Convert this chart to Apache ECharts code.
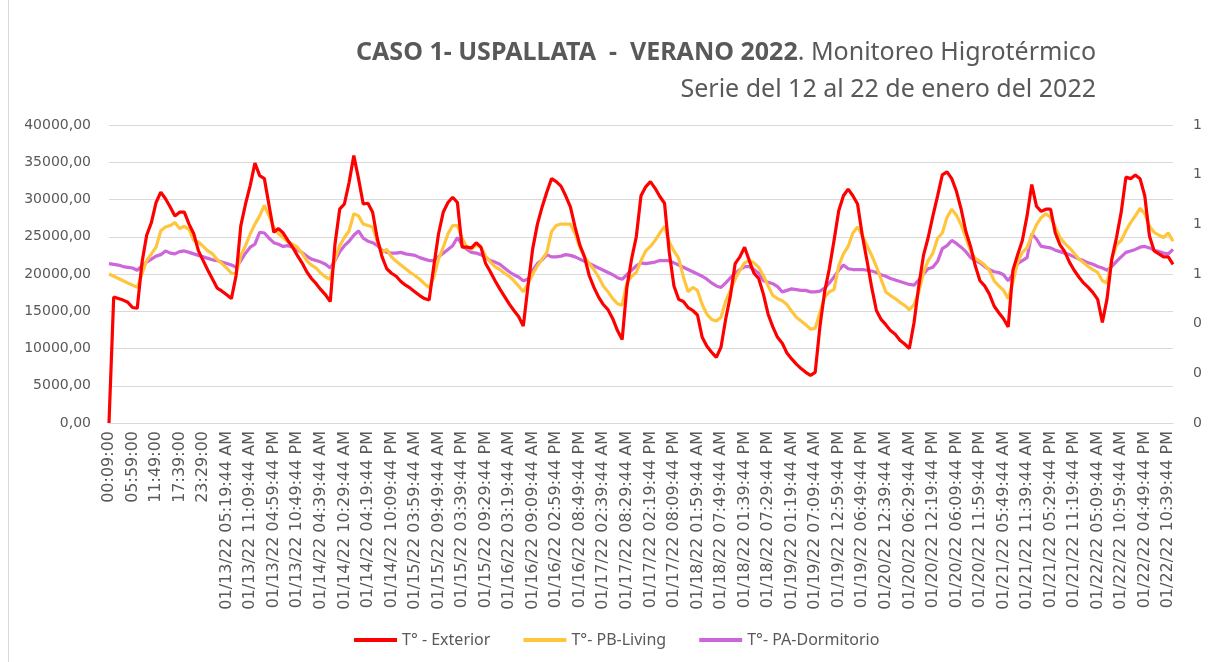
<!DOCTYPE html>
<html>
<head>
<meta charset="utf-8">
<title>Caso 1 - Uspallata - Verano 2022</title>
<script src="https://cdn.jsdelivr.net/npm/echarts@6/dist/echarts.min.js"></script>
<style>
  html, body { margin: 0; padding: 0; background: #fff; }
  #chart { width: 1213px; height: 662px; }
</style>
</head>
<body>
<div id="chart"></div>
<script>
// etiquetas del eje X (una cada 5 lecturas)
const tickLabels = [
  '00:09:00', '05:59:00', '11:49:00', '17:39:00', '23:29:00',
  '01/13/22 05:19:44 AM', '01/13/22 11:09:44 AM', '01/13/22 04:59:44 PM', '01/13/22 10:49:44 PM',
  '01/14/22 04:39:44 AM', '01/14/22 10:29:44 AM', '01/14/22 04:19:44 PM', '01/14/22 10:09:44 PM',
  '01/15/22 03:59:44 AM', '01/15/22 09:49:44 AM', '01/15/22 03:39:44 PM', '01/15/22 09:29:44 PM',
  '01/16/22 03:19:44 AM', '01/16/22 09:09:44 AM', '01/16/22 02:59:44 PM', '01/16/22 08:49:44 PM',
  '01/17/22 02:39:44 AM', '01/17/22 08:29:44 AM', '01/17/22 02:19:44 PM', '01/17/22 08:09:44 PM',
  '01/18/22 01:59:44 AM', '01/18/22 07:49:44 AM', '01/18/22 01:39:44 PM', '01/18/22 07:29:44 PM',
  '01/19/22 01:19:44 AM', '01/19/22 07:09:44 AM', '01/19/22 12:59:44 PM', '01/19/22 06:49:44 PM',
  '01/20/22 12:39:44 AM', '01/20/22 06:29:44 AM', '01/20/22 12:19:44 PM', '01/20/22 06:09:44 PM', '01/20/22 11:59:44 PM',
  '01/21/22 05:49:44 AM', '01/21/22 11:39:44 AM', '01/21/22 05:29:44 PM', '01/21/22 11:19:44 PM',
  '01/22/22 05:09:44 AM', '01/22/22 10:59:44 AM', '01/22/22 04:49:44 PM', '01/22/22 10:39:44 PM'
];
const pointsPerTick = 5;

// T° - Exterior
const exterior = [
  0, 16900, 16700, 16500, 16200, 15500, 15400, 21500, 25200, 26900,
  29600, 31000, 30100, 29000, 27800, 28300, 28300, 26700, 25400, 23100,
  21800, 20500, 19300, 18100, 17700, 17200, 16700, 19800, 26500, 29400,
  31900, 34900, 33200, 32800, 29200, 25600, 26100, 25500, 24500, 23600,
  22500, 21500, 20300, 19400, 18700, 17900, 17200, 16300, 24000, 28700,
  29400, 32300, 35900, 32800, 29400, 29500, 28300, 24700, 22300, 20700,
  20100, 19700, 19000, 18500, 18100, 17600, 17100, 16700, 16500, 21100,
  25400, 28300, 29600, 30300, 29600, 23600, 23600, 23500, 24200, 23600,
  21400, 20300, 19100, 18000, 17000, 16000, 15100, 14300, 13000, 18400,
  23400, 26700, 29000, 31000, 32800, 32400, 31800, 30500, 29000, 26300,
  23900, 22300, 19800, 18200, 16900, 15900, 15200, 14000, 12400, 11200,
  18200, 22000, 25000, 30500, 31700, 32400, 31500, 30400, 29500, 22900,
  18400, 16600, 16300, 15500, 15100, 14500, 11500, 10300, 9500, 8800,
  10200, 14000, 17100, 21400, 22300, 23600, 21800, 20100, 19400, 17300,
  14600, 12900, 11500, 10700, 9400, 8600, 7900, 7300, 6800, 6400,
  6800, 12900, 17600, 20700, 24500, 28500, 30500, 31400, 30500, 29400,
  25200, 21800, 18200, 15100, 13900, 13200, 12400, 11900, 11100, 10600,
  10000, 13500, 18400, 22500, 24900, 27800, 30500, 33300, 33700, 32800,
  31100, 28700, 25700, 23700, 21100, 19100, 18400, 17300, 15700, 14800,
  14000, 12900, 20500, 22600, 24500, 27800, 32000, 29100, 28400, 28700,
  28700, 25500, 23900, 23000, 21600, 20500, 19600, 18800, 18200, 17500,
  16600, 13500, 16700, 22000, 24900, 28300, 33000, 32800, 33300, 32800,
  30500, 25100, 23100, 22700, 22300, 22300, 21300
];

// T°- PB-Living
const living = [
  20000, 19700, 19400, 19100, 18800, 18500, 18200, 20000, 21800, 22700,
  23600, 25800, 26300, 26500, 26900, 26100, 26400, 26000, 24500, 24300,
  23700, 23100, 22700, 21900, 21400, 20800, 20100, 20000, 22500, 23800,
  25400, 26700, 27800, 29200, 27800, 26300, 25400, 24900, 24300, 24000,
  23600, 22800, 21800, 21200, 20800, 20100, 19600, 19300, 22000, 23800,
  24900, 25800, 28100, 27800, 26700, 26500, 26300, 24300, 22900, 23300,
  22300, 21700, 21200, 20700, 20200, 19800, 19300, 18700, 18200, 19600,
  22000, 23600, 25400, 26500, 26500, 24800, 23600, 23300, 23900, 23600,
  22400, 21600, 21000, 20600, 20100, 19700, 19100, 18400, 17600, 18700,
  20000, 21100, 22000, 22900, 25700, 26500, 26700, 26700, 26700, 25400,
  23600, 22300, 21400, 20600, 19600, 18400, 17600, 16700, 16000, 15800,
  18800, 19700, 20200, 21800, 23100, 23700, 24500, 25500, 26400, 24300,
  23100, 22100, 19600, 17600, 18200, 17800, 15900, 14600, 13900, 13700,
  14200, 16400, 17800, 19300, 20500, 21500, 21800, 21500, 20900, 19800,
  18400, 17100, 16700, 16400, 15900, 15000, 14200, 13700, 13200, 12600,
  12700, 14800, 16900, 17600, 17900, 21100, 22700, 23700, 25500, 26300,
  25200, 23800, 22500, 21000, 19300, 17600, 17100, 16700, 16200, 15800,
  15200, 15900, 17600, 20200, 21800, 22800, 24800, 25500, 27600, 28700,
  27900, 26600, 24900, 23100, 22100, 21700, 21200, 20500, 19100, 18400,
  17800, 16700, 18900, 21600, 22900, 23500, 25200, 26600, 27600, 28100,
  27600, 26300, 24900, 24100, 23500, 22800, 22000, 21500, 21000, 20600,
  20200, 19100, 18800, 22000, 23900, 24500, 25800, 26900, 27800, 28800,
  28100, 26400, 25600, 25200, 24900, 25500, 24400
];

// T°- PA-Dormitorio
const dormitorio = [
  21400, 21300, 21200, 21000, 20900, 20800, 20500, 21100, 21600, 22000,
  22400, 22600, 23100, 22800, 22700, 23000, 23100, 22900, 22700, 22500,
  22300, 22100, 21900, 21800, 21600, 21400, 21200, 20900, 21800, 22800,
  23600, 24000, 25600, 25500, 24800, 24200, 24000, 23700, 23800, 23600,
  23200, 22900, 22400, 22000, 21800, 21600, 21300, 20800, 21800, 23000,
  23800, 24400, 25200, 25800, 24800, 24400, 24200, 23800, 23200, 22900,
  22800, 22800, 22900, 22700, 22600, 22500, 22200, 22000, 21800, 21800,
  22300, 22800, 23300, 23800, 24900, 23900, 23300, 22900, 22800, 22600,
  22200, 21800, 21600, 21300, 20800, 20300, 19900, 19600, 19100, 19300,
  20500, 21400, 21900, 22600, 22300, 22300, 22400, 22600, 22500, 22300,
  22000, 21700, 21400, 21100, 20800, 20500, 20200, 19900, 19500, 19300,
  19900, 20500, 21100, 21500, 21400, 21500, 21600, 21800, 21800, 21800,
  21500, 21200, 20900, 20600, 20300, 20000, 19700, 19300, 18800, 18400,
  18200, 18800, 19500, 20100, 20600, 21000, 21000, 20600, 20100, 19100,
  18900, 18700, 18300, 17600, 17800, 18000, 17900, 17800, 17800, 17600,
  17600, 17700, 18100, 18800, 19600, 20500, 21200, 20700, 20600, 20600,
  20600, 20500, 20400, 20200, 19900, 19700, 19400, 19200, 19000, 18800,
  18600, 18500, 19200, 20000, 20700, 20900, 21700, 23400, 23800, 24500,
  24100, 23600, 23000, 22200, 21800, 21500, 21000, 20600, 20300, 20200,
  19900, 19100, 20000, 21400, 21800, 22200, 25400, 24700, 23700, 23600,
  23500, 23200, 23000, 22800, 22600, 22300, 22000, 21800, 21500, 21300,
  21000, 20800, 20500, 21000, 21700, 22300, 22900, 23100, 23300, 23600,
  23700, 23500, 23200, 23000, 22800, 22700, 23300
];

const seriesNames = ['T° - Exterior', 'T°- PB-Living', 'T°- PA-Dormitorio'];
const seriesColors = ['#FF0000', '#FFC53D', '#CC66D9'];

// una categoría por lectura, con texto sólo donde va la etiqueta
const categories = exterior.map((v, i) => i % pointsPerTick === 0 ? tickLabels[i / pointsPerTick] : '');

const textColor = '#595959';
const font = 'Noto Sans';

const myChart = echarts.init(document.getElementById('chart'));
const option = {
  animation: false,
  backgroundColor: '#fff',
  title: [
    {
      text: '{b|CASO 1- USPALLATA  -  VERANO 2022}{n|. Monitoreo Higrotérmico}',
      right: 112,
      top: 35,
      textStyle: {
        rich: {
          b: { fontFamily: font, fontSize: 25, fontWeight: 'bold', color: textColor },
          n: { fontFamily: font, fontSize: 25, fontWeight: 'normal', color: textColor }
        }
      }
    },
    {
      text: 'Serie del 12 al 22 de enero del 2022',
      right: 112,
      top: 72,
      textStyle: { fontFamily: font, fontSize: 25, fontWeight: 'normal', color: textColor }
    }
  ],
  legend: {
    left: 349,
    top: 627,
    icon: 'rect',
    itemWidth: 43,
    itemHeight: 4,
    itemGap: 33,
    textStyle: { fontFamily: font, fontSize: 16, color: textColor },
    data: seriesNames
  },
  grid: { left: 109, right: 40, top: 125, bottom: 239, containLabel: false },
  xAxis: {
    type: 'category',
    boundaryGap: false,
    data: categories,
    axisLine: { show: true, lineStyle: { color: '#d9d9d9' } },
    axisTick: { show: false },
    axisLabel: {
      interval: (idx) => idx % pointsPerTick === 0,
      rotate: 90,
      margin: 8,
      fontFamily: 'DejaVu Sans',
      fontSize: 16,
      color: textColor
    },
    splitLine: { show: false }
  },
  yAxis: [
    {
      type: 'value',
      min: 0,
      max: 40000,
      interval: 5000,
      axisLine: { show: false },
      axisTick: { show: false },
      axisLabel: {
        margin: 18,
        fontFamily: 'DejaVu Sans',
        fontSize: 14,
        color: textColor,
        formatter: (v) => v.toFixed(2).replace('.', ',')
      },
      splitLine: { lineStyle: { color: '#d9d9d9', width: 1 } }
    },
    {
      type: 'value',
      min: 0,
      max: 1.2,
      interval: 0.2,
      position: 'right',
      axisLine: { show: false },
      axisTick: { show: false },
      axisLabel: {
        margin: 20,
        fontFamily: 'DejaVu Sans',
        fontSize: 14,
        color: textColor,
        formatter: (v) => String(Math.round(v))
      },
      splitLine: { show: false }
    }
  ],
  graphic: [
    {
      type: 'line',
      silent: true,
      shape: { x1: 8.5, y1: 0, x2: 8.5, y2: 662 },
      style: { stroke: '#d9d9d9', lineWidth: 1 }
    }
  ],
  series: [exterior, living, dormitorio].map((d, k) => ({
    name: seriesNames[k],
    type: 'line',
    data: d,
    showSymbol: false,
    symbol: 'none',
    color: seriesColors[k],
    lineStyle: { width: 3.2, color: seriesColors[k] },
    z: 10 - k
  }))
};
myChart.setOption(option);
window.addEventListener('resize', function () { myChart.resize(); });
</script>
</body>
</html>
